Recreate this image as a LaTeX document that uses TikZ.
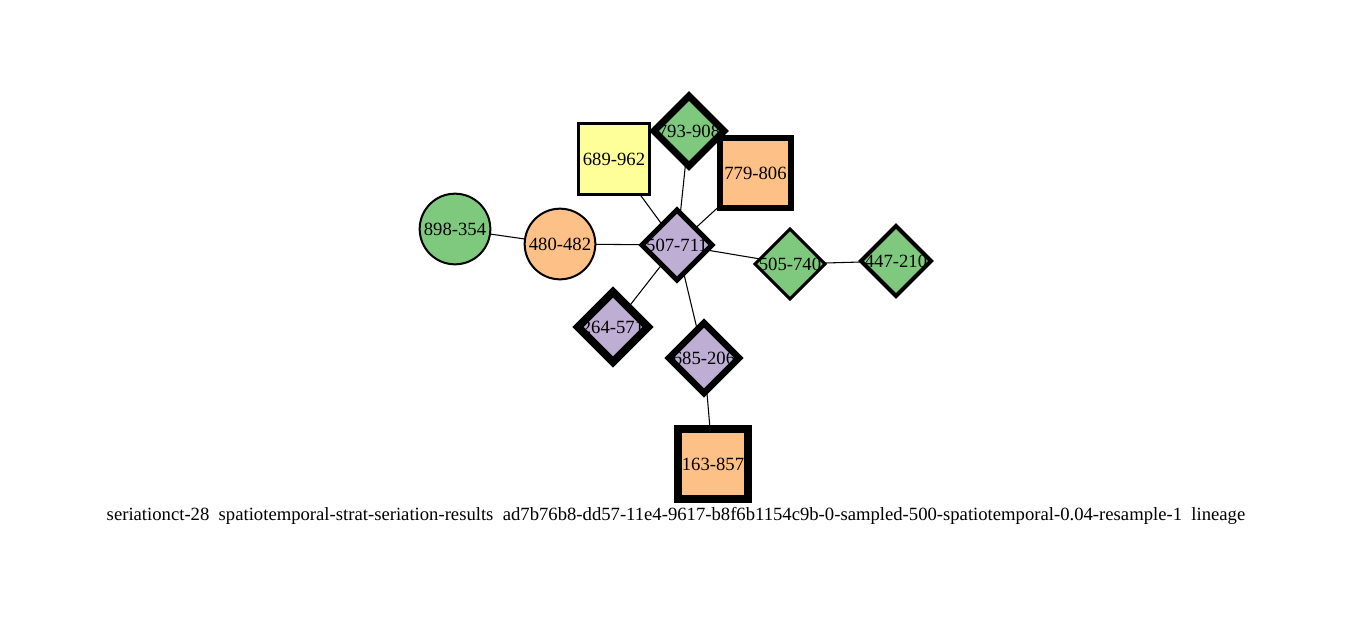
\documentclass[tikz,border=0pt]{standalone}
\usepackage{fontspec}
\setmainfont{Liberation Serif}
\usetikzlibrary{shapes.geometric}
\pgfdeclarelayer{background}
\pgfsetlayers{background,main}
\definecolor{cgreen}{HTML}{7FC97F}
\definecolor{corange}{HTML}{FDC086}
\definecolor{cpurple}{HTML}{BEAED4}
\definecolor{cyellow}{HTML}{FFFF99}
\tikzset{
  base/.style={draw=black, inner sep=0pt, outer sep=0pt, font=\fontsize{14pt}{16pt}\selectfont},
  dnode/.style={base, diamond, minimum width=52.5pt, minimum height=52.5pt},
  snode/.style={base, rectangle, minimum width=53pt, minimum height=53pt},
  cnode/.style={base, circle, minimum size=53pt},
  edge/.style={draw=black, line width=0.8pt},
}
\newcommand{\lbl}[1]{\makebox[0pt]{#1}}
\begin{document}
\begin{tikzpicture}[x=0.75pt,y=-0.75pt]
\useasboundingbox (0,0) rectangle (1352,626);
\node[cnode, fill=cgreen, line width=1.5pt] (n898) at (455,229) {\lbl{898-354}};
\node[cnode, fill=corange, line width=1.5pt] (n480) at (560,244) {\lbl{480-482}};
\node[snode, fill=cyellow, line width=2.2pt] (n689) at (614,159) {\lbl{689-962}};
\node[dnode, fill=cgreen, line width=5.2pt] (n793) at (689,131) {\lbl{793-908}};
\node[snode, fill=corange, line width=4.5pt] (n779) at (755.5,173) {\lbl{779-806}};
\node[dnode, fill=cpurple, line width=3.8pt] (n507) at (677,245) {\lbl{507-711}};
\node[dnode, fill=cgreen, line width=2.3pt] (n505) at (790,264) {\lbl{505-740}};
\node[dnode, fill=cgreen, line width=3pt] (n447) at (896,261) {\lbl{447-210}};
\node[dnode, fill=cpurple, line width=6pt] (n264) at (613,327) {\lbl{264-571}};
\node[dnode, fill=cpurple, line width=4.8pt] (n685) at (704,358) {\lbl{685-206}};
\node[snode, fill=corange, line width=6pt] (n163) at (713,464) {\lbl{163-857}};
\node[font=\fontsize{14pt}{16pt}\selectfont] (cap) at (676,516) {seriationct-28\ \ spatiotemporal-strat-seriation-results\ \ ad7b76b8-dd57-11e4-9617-b8f6b1154c9b-0-sampled-500-spatiotemporal-0.04-resample-1\ \ lineage};
\begin{pgfonlayer}{background}
\draw[edge] (n898.center) -- (n480.center);
\draw[edge] (n480.center) -- (n507.center);
\draw[edge] (n689.center) -- (n507.center);
\draw[edge] (n793.center) -- (n507.center);
\draw[edge] (n779.center) -- (n507.center);
\draw[edge] (n507.center) -- (n505.center);
\draw[edge] (n505.center) -- (n447.center);
\draw[edge] (n507.center) -- (n264.center);
\draw[edge] (n507.center) -- (n685.center);
\draw[edge] (n685.center) -- (n163.center);
\end{pgfonlayer}
\end{tikzpicture}
\end{document}
